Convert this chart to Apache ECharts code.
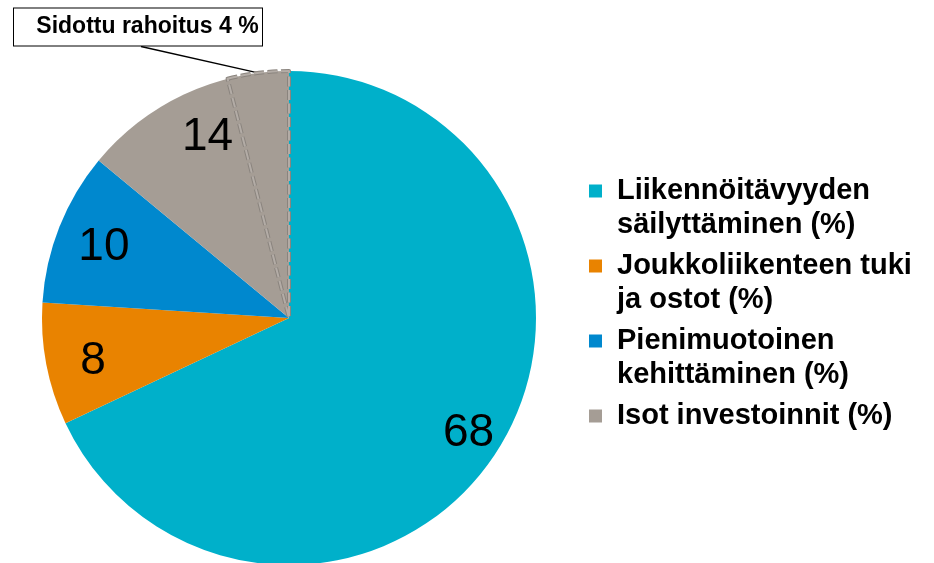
<!DOCTYPE html>
<html>
<head>
<meta charset="utf-8">
<script src="https://cdn.jsdelivr.net/npm/echarts@6/dist/echarts.min.js"></script>
<style>
html,body{margin:0;padding:0;background:#fff}
#main{width:934px;height:563px}
</style>
</head>
<body>
<div id="main"></div>
<script>
// osuudet (%)
var categories = ['Liikennöitävyyden\nsäilyttäminen (%)', 'Joukkoliikenteen tuki\nja ostot (%)', 'Pienimuotoinen\nkehittäminen (%)', 'Isot investoinnit (%)'];
var values = [68, 8, 10, 14];
var colors = ['#00B0CA', '#E98300', '#0088CE', '#A59D95'];
// sidottu osa isoista investoinneista
var sidottuLabel = 'Sidottu rahoitus 4 %';
var sidottuValue = 4;

var total = values.reduce(function(a, b){ return a + b; }, 0);
var center = [289, 318];
var R = 247;
var font = 'Liberation Sans, Arial, sans-serif';

// katkoviivasektori, piirretään kahdesti (tumma reuna + vaalea sisus)
function sidottuSeries(borderColor, borderWidth, withLabel){
    var item = {
        name: sidottuLabel,
        value: sidottuValue,
        itemStyle: { color: 'rgba(0,0,0,0)', borderColor: borderColor, borderWidth: borderWidth, borderType: [10, 3.5] }
    };
    if (withLabel) {
        item.label = {
            show: true, position: 'outside', formatter: '{b}', overflow: 'none', width: 229,
            fontSize: 23, fontWeight: 'bold', color: '#000', fontFamily: font,
            backgroundColor: '#fff', borderColor: '#000', borderWidth: 1,
            padding: [10, 0, 4, 19]
        };
        item.labelLine = { show: true, length: 20, length2: 20, lineStyle: { color: '#000', width: 1.3 } };
    }
    return {
        type: 'pie',
        center: center,
        radius: [0, R],
        startAngle: 90,
        silent: true,
        label: { show: false },
        labelLine: { show: false },
        labelLayout: withLabel ? function(params){
            var boxX = 138, boxY = 27;
            var p = params.labelLinePoints;
            return {
                x: boxX, y: boxY, align: 'center', verticalAlign: 'middle',
                labelLinePoints: p ? [p[0], [boxX + 3, boxY + params.labelRect.height / 2]] : undefined
            };
        } : null,
        data: [
            { name: 'muu', value: total - sidottuValue, itemStyle: { color: 'rgba(0,0,0,0)', borderWidth: 0 } },
            item
        ]
    };
}

var myChart = echarts.init(document.getElementById('main'));
myChart.setOption({
    animation: false,
    color: colors,
    legend: {
        orient: 'vertical',
        left: 589,
        top: 140,
        padding: 0,
        itemWidth: 13,
        itemHeight: 13,
        itemGap: -27,
        icon: 'rect',
        data: categories,
        // tyhjä rivi ylös (ja yksirivisille alas), jotta neliö osuu ensimmäiselle riville
        formatter: function(name){
            return name.indexOf('\n') >= 0 ? '\n' + name : '\n' + name + '\n';
        },
        textStyle: { fontSize: 29, fontWeight: 'bold', color: '#000', fontFamily: font, lineHeight: 34, padding: [0, 0, 0, 10] }
    },
    series: [
        {
            // itse piirakka
            type: 'pie',
            center: center,
            radius: [0, R],
            startAngle: 90,
            silent: true,
            label: { show: false },
            labelLine: { show: false },
            data: categories.map(function(c, i){ return { name: c, value: values[i] }; })
        },
        {
            // arvojen tekstit renkaan keskelle
            type: 'pie',
            center: center,
            radius: [R * 0.64, R],
            startAngle: 90,
            silent: true,
            itemStyle: { color: 'rgba(0,0,0,0)' },
            label: { show: true, position: 'inside', formatter: '{c}', fontSize: 46, color: '#000', fontFamily: font, offset: [6, 5] },
            labelLine: { show: false },
            data: categories.map(function(c, i){ return { name: c, value: values[i] }; })
        },
        sidottuSeries('#8a847e', 4, true),
        sidottuSeries('#b3aca6', 2, false)
    ]
});
window.onresize = function(){
    myChart.resize();
};
</script>
</body>
</html>
